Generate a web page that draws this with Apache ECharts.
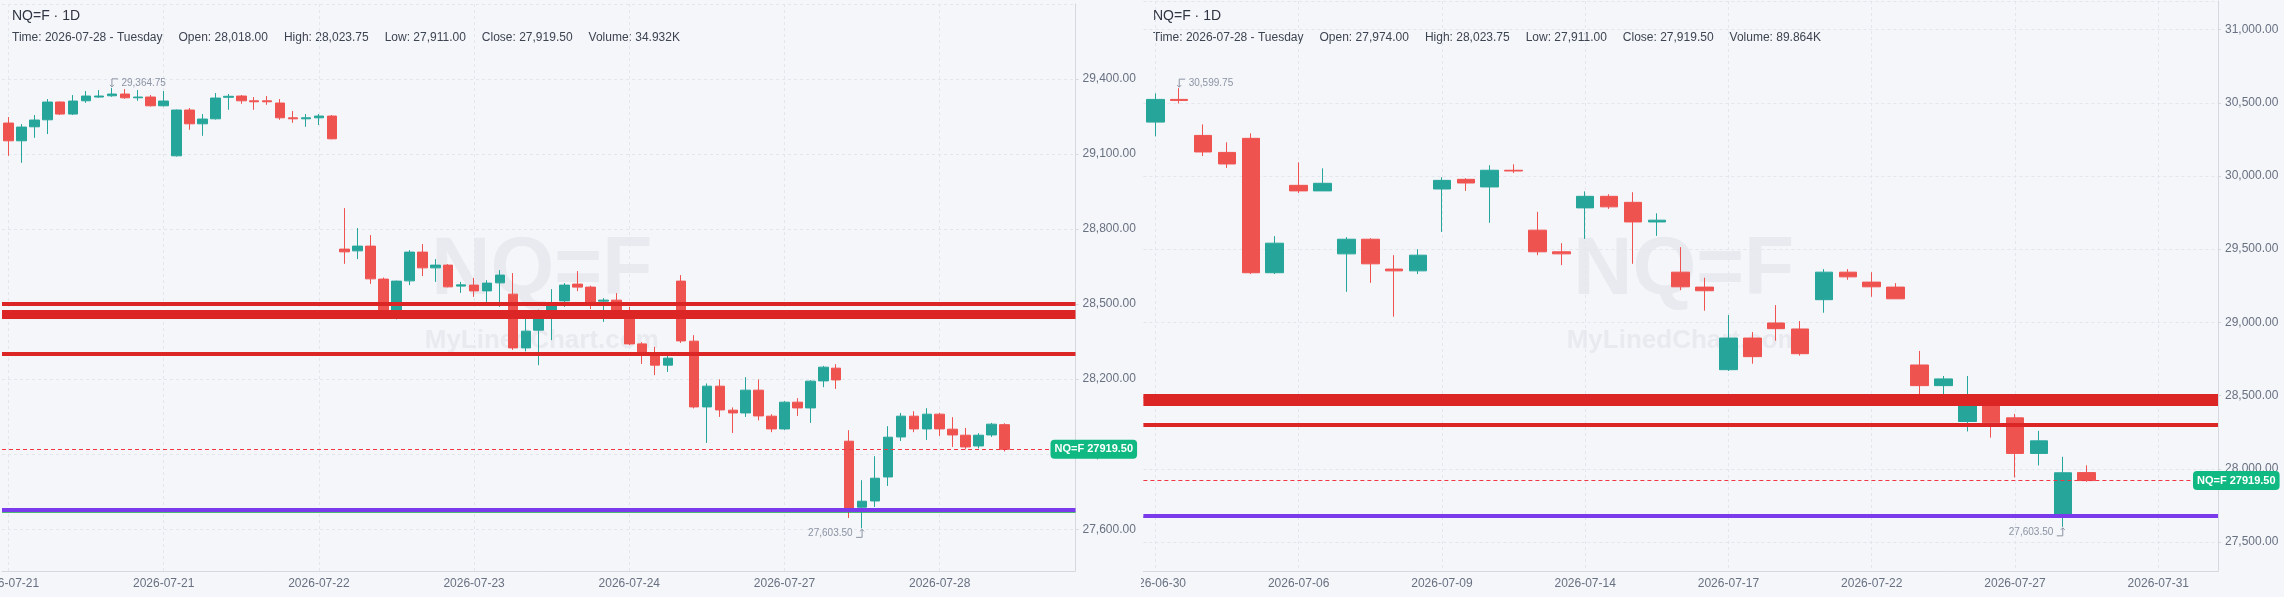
<!DOCTYPE html>
<html>
<head>
<meta charset="utf-8">
<title>NQ=F</title>
<script src="https://cdn.jsdelivr.net/npm/echarts@6/dist/echarts.min.js"></script>
<style>
  html, body { margin: 0; padding: 0; background: #f5f6fa; }
  #wrap { position: relative; width: 2284px; height: 597px; overflow: hidden; }
  #leftChart { position: absolute; left: 0; top: 0; width: 1141px; height: 597px; }
  #rightChart { position: absolute; left: 1141px; top: 0; width: 1143px; height: 597px; }
</style>
</head>
<body>
<div id="wrap">
  <div id="leftChart"></div>
  <div id="rightChart"></div>
</div>
<script>
var upColor = '#26a69a';
var downColor = '#ef5350';

// intraday bars, [open, close, low, high]
var leftBars = [
  [29224, 29153, 29093, 29248], [29153, 29208, 29065, 29220], [29209, 29236, 29165, 29256],
  [29237, 29308, 29180, 29320], [29308, 29260, 29256, 29310], [29260, 29312, 29256, 29336],
  [29313, 29332, 29305, 29352], [29328, 29332, 29325, 29356], [29333, 29340, 29329, 29364.75],
  [29340, 29325, 29321, 29360], [29325, 29328, 29313, 29356], [29328, 29293, 29290, 29336],
  [29293, 29312, 29290, 29352], [29093, 29276, 29090, 29278], [29276, 29221, 29197, 29284],
  [29221, 29240, 29173, 29260], [29241, 29324, 29238, 29344], [29327, 29331, 29277, 29340],
  [29332, 29313, 29301, 29336], [29313, 29309, 29277, 29328], [29313, 29309, 29297, 29332],
  [29304, 29245, 29237, 29320], [29245, 29241, 29225, 29272], [29241, 29245, 29209, 29260],
  [29245, 29252, 29216, 29260], [29252, 29161, 29159, 29256], [28720, 28709, 28661, 28884],
  [28713, 28732, 28680, 28804], [28732, 28601, 28581, 28776], [28600, 28470, 28460, 28606],
  [28465, 28592, 28439, 28594], [28593, 28708, 28576, 28716], [28708, 28645, 28612, 28740],
  [28645, 28656, 28589, 28680], [28656, 28569, 28567, 28660], [28572, 28577, 28545, 28589],
  [28576, 28553, 28529, 28605], [28553, 28584, 28509, 28596], [28585, 28616, 28489, 28636],
  [28540, 28325, 28317, 28624], [28325, 28392, 28311, 28450], [28396, 28470, 28256, 28478],
  [28465, 28496, 28356, 28560], [28513, 28576, 28489, 28584], [28580, 28568, 28552, 28632],
  [28568, 28498, 28480, 28574], [28512, 28516, 28429, 28524], [28516, 28470, 28460, 28544],
  [28445, 28341, 28336, 28489], [28341, 28309, 28261, 28348], [28296, 28256, 28216, 28329],
  [28256, 28284, 28229, 28296], [28592, 28353, 28345, 28616], [28352, 28089, 28083, 28376],
  [28089, 28172, 27945, 28183], [28172, 28077, 28049, 28199], [28076, 28065, 27985, 28087],
  [28065, 28156, 28049, 28208], [28156, 28053, 28035, 28199], [28052, 28001, 27988, 28060],
  [28001, 28108, 27997, 28112], [28108, 28085, 28053, 28124], [28085, 28192, 28025, 28196],
  [28193, 28248, 28168, 28253], [28244, 28197, 28161, 28260], [27952, 27683, 27645, 27996],
  [27688, 27712, 27603.5, 27796], [27713, 27804, 27689, 27892], [27809, 27968, 27773, 28012],
  [27969, 28052, 27953, 28065], [28052, 28001, 27988, 28072], [28001, 28060, 27957, 28084],
  [28060, 28001, 27973, 28065], [28000, 27977, 27929, 28048], [27976, 27929, 27919, 28005],
  [27933, 27976, 27923, 27984], [27977, 28020, 27969, 28025], [28018, 27919.5, 27911, 28023.75]
];
var leftTicks = ['2026-07-21', '2026-07-21', '2026-07-22', '2026-07-23', '2026-07-24', '2026-07-27', '2026-07-28'];
var leftInfo = ['Time: 2026-07-28 - Tuesday', 'Open: 28,018.00', 'High: 28,023.75', 'Low: 27,911.00', 'Close: 27,919.50', 'Volume: 34.932K'];

// daily bars, [open, close, low, high]
var rightBars = [
  [30368, 30523, 30270, 30564], [30523, 30516, 30495, 30599.75], [30277, 30164, 30136, 30352],
  [30161, 30082, 30055, 30230], [30257, 29339, 29330, 30291], [29339, 29541, 29330, 29589],
  [29936, 29898, 29884, 30093], [29898, 29950, 29898, 30052], [29468, 29568, 29209, 29582],
  [29568, 29400, 29270, 29575], [29364, 29352, 29039, 29459], [29352, 29459, 29330, 29500],
  [29911, 29970, 29618, 29991], [29977, 29952, 29898, 29984], [29925, 30039, 29680, 30073],
  [30039, 30034, 30020, 30080], [29630, 29482, 29459, 29755], [29482, 29468, 29391, 29541],
  [29782, 29861, 29570, 29895], [29861, 29789, 29775, 29875], [29820, 29686, 29400, 29889],
  [29686, 29698, 29591, 29745], [29343, 29243, 29220, 29514], [29241, 29216, 29080, 29305],
  [28677, 28893, 28668, 29050], [28893, 28766, 28718, 28934], [28996, 28957, 28875, 29118],
  [28955, 28786, 28773, 29009], [29155, 29343, 29066, 29364], [29343, 29311, 29291, 29364],
  [29275, 29243, 29175, 29343], [29241, 29161, 29161, 29268], [28709, 28568, 28432, 28805],
  [28568, 28614, 28505, 28634], [28323, 28440, 28255, 28634], [28450, 28314, 28213, 28470],
  [28348, 28105, 27941, 28375], [28105, 28191, 28023, 28259], [27686, 27973, 27603.5, 28082],
  [27974, 27919.5, 27911, 28023.75]
];
var rightTicks = ['2026-06-30', '2026-07-06', '2026-07-09', '2026-07-14', '2026-07-17', '2026-07-22', '2026-07-27', '2026-07-31'];
var rightInfo = ['Time: 2026-07-28 - Tuesday', 'Open: 27,974.00', 'High: 28,023.75', 'Low: 27,911.00', 'Close: 27,919.50', 'Volume: 89.864K'];

// drawn levels
var levelValues = [28502, 28460, 28303, 27670, 27679];
var levelColors = ['#dc2626', '#dc2626', '#dc2626', '#16a34a', '#7c3aed'];
var levelWidths = [4, 9, 4, 1.5, 4];
var lastClose = 27919.5;

var font = '"Liberation Sans", Arial, Helvetica, sans-serif';
var gridLine = '#e3e6ec';
var axisColor = '#d5d8df';
var labelColor = '#687181';

function fmt(v) {
  return Number(v).toLocaleString('en-US', { minimumFractionDigits: 2, maximumFractionDigits: 2 });
}

function buildOption(p) {
  var slots = [];
  for (var i = 0; i < p.slots; i++) slots.push(i);

  var lines = levelValues.map(function(v, k) {
    return {
      yAxis: v,
      lineStyle: { color: levelColors[k], width: levelWidths[k], type: 'solid' },
      label: { show: false }
    };
  });
  lines.push({
    yAxis: lastClose,
    lineStyle: { color: '#f23645', width: 1, type: [4, 3] },
    label: {
      show: true,
      position: 'end',
      distance: -25,
      formatter: 'NQ=F ' + lastClose.toFixed(2),
      color: '#ffffff',
      fontWeight: 'bold',
      fontSize: 11,
      lineHeight: 13,
      backgroundColor: '#10b981',
      borderRadius: 4,
      padding: [3, 4]
    }
  });

  var cx = p.grid.left + p.grid.width / 2 + 3;

  return {
    animation: false,
    backgroundColor: '#f5f6fa',
    textStyle: { fontFamily: font },
    grid: p.grid,
    graphic: [
      {
        type: 'text', left: 12, top: 9, silent: true,
        style: { text: 'NQ=F · 1D', font: '14px ' + font, fill: '#2f3542' }
      },
      {
        type: 'text', left: 12, top: 32, silent: true,
        style: {
          text: p.info.map(function(t) { return '{t|' + t + '}'; }).join(''),
          rich: { t: { fontSize: 12, fontFamily: font, fill: '#3d4451', padding: [0, 16, 0, 0] } }
        }
      },
      {
        type: 'text', x: cx, y: 271, z: 0, silent: true,
        style: { text: 'NQ=F', font: 'bold 82px ' + font, fill: '#e8eaf0', align: 'center', verticalAlign: 'middle' }
      },
      {
        type: 'text', x: cx, y: 341, z: 0, silent: true,
        style: { text: 'MyLinedChart.com', font: 'bold 26px ' + font, fill: '#e8eaf0', align: 'center', verticalAlign: 'middle' }
      }
    ],
    xAxis: {
      type: 'category',
      data: slots,
      boundaryGap: true,
      axisLine: { lineStyle: { color: axisColor } },
      axisTick: { alignWithLabel: true, interval: p.every - 1, length: 4, lineStyle: { color: axisColor } },
      axisLabel: {
        interval: p.every - 1, margin: 7, color: labelColor, fontSize: 12,
        formatter: function(v, idx) { return p.ticks[idx / p.every] || ''; }
      },
      splitLine: {
        show: true, interval: p.every - 1, alignWithLabel: true,
        lineStyle: { color: gridLine, type: [3, 3] }
      }
    },
    yAxis: {
      type: 'value',
      position: 'right',
      scale: true,
      min: p.min,
      max: p.max,
      minInterval: p.step,
      maxInterval: p.step,
      axisLine: { show: true, lineStyle: { color: axisColor } },
      axisTick: { show: true, length: 3, lineStyle: { color: axisColor } },
      axisLabel: {
        showMinLabel: false, showMaxLabel: false, margin: 7,
        color: labelColor, fontSize: 12, formatter: fmt
      },
      splitLine: { lineStyle: { color: gridLine, type: [3, 3] } }
    },
    series: [{
      type: 'candlestick',
      data: p.bars,
      barWidth: p.barWidth,
      emphasis: { disabled: true },
      itemStyle: {
        color: upColor, color0: downColor,
        borderColor: upColor, borderColor0: downColor, borderWidth: 1
      },
      markPoint: {
        silent: true,
        animation: false,
        itemStyle: { color: 'rgba(0,0,0,0)', borderColor: '#8b93a3', borderWidth: 1 },
        label: { color: '#8b93a3', fontSize: 10, formatter: function(q) { return fmt(q.value); } },
        data: [
          {
            type: 'max', valueDim: 'highest',
            symbol: 'path://M8 0L2 0L2 8M0 6L2 8L4 6', symbolSize: [8, 8], symbolOffset: [2, -5],
            label: { position: 'right', distance: 3 }
          },
          {
            type: 'min', valueDim: 'lowest',
            symbol: 'path://M0 8L6 8L6 0M4 2L6 0L8 2', symbolSize: [8, 8], symbolOffset: [-2, 5],
            label: { position: 'left', distance: 3 }
          }
        ]
      },
      markLine: {
        silent: true,
        animation: false,
        symbol: ['none', 'none'],
        data: lines
      }
    }]
  };
}

var leftChart = echarts.init(document.getElementById('leftChart'));
leftChart.setOption(buildOption({
  bars: leftBars, ticks: leftTicks, info: leftInfo,
  slots: 83, every: 12, barWidth: 10,
  min: 27433, max: 29700, step: 300,
  grid: { left: 2, top: 4, width: 1073.5, height: 567, outerBoundsMode: 'none' }
}));

var rightChart = echarts.init(document.getElementById('rightChart'));
rightChart.setOption(buildOption({
  bars: rightBars, ticks: rightTicks, info: rightInfo,
  slots: 45, every: 6, barWidth: 18,
  min: 27302, max: 31195, step: 500,
  grid: { left: 2.4, top: 1, width: 1074.6, height: 570, outerBoundsMode: 'none' }
}));

window.addEventListener('resize', function() {
  leftChart.resize();
  rightChart.resize();
});
</script>
</body>
</html>
